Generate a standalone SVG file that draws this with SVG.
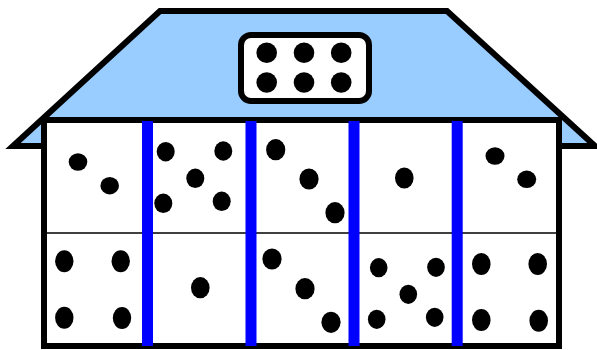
<svg xmlns="http://www.w3.org/2000/svg" width="597" height="350" viewBox="0 0 597 350">
<style>
.ol{stroke:#000;stroke-width:6;stroke-linejoin:miter;stroke-miterlimit:10}
.d{fill:#000}
.bar{fill:#0000FF}
</style>
<rect width="597" height="350" fill="#fff"/>
<g id="roof">
<polygon class="ol" fill="#99CCFF" points="13,146 160,11 447,11 595,146"/>
</g>
<g id="window">
<rect class="ol" fill="#fff" x="241" y="35" width="128" height="66" rx="10" ry="10"/>
<circle class="d" cx="266.7" cy="52.8" r="10.3"/>
<circle class="d" cx="304" cy="52.8" r="10.3"/>
<circle class="d" cx="341.2" cy="52.8" r="10.3"/>
<circle class="d" cx="266.7" cy="82.5" r="10.3"/>
<circle class="d" cx="304" cy="82.5" r="10.3"/>
<circle class="d" cx="341.2" cy="82.5" r="10.3"/>
</g>
<g id="wall">
<rect class="ol" fill="#fff" x="44" y="120" width="515" height="226"/>
<line x1="44" y1="233" x2="559" y2="233" stroke="#000" stroke-width="1.5"/>
</g>
<g id="dots">
<ellipse class="d" cx="78" cy="162" rx="9.3" ry="8.7"/>
<ellipse class="d" cx="109.7" cy="185.7" rx="9.3" ry="8.7"/>
<ellipse class="d" cx="165.7" cy="151.7" rx="9" ry="9.7"/>
<ellipse class="d" cx="223.3" cy="151" rx="9" ry="9.7"/>
<ellipse class="d" cx="195.3" cy="178.3" rx="9" ry="9.7"/>
<ellipse class="d" cx="163.3" cy="203.3" rx="9" ry="9.7"/>
<ellipse class="d" cx="221.7" cy="201.3" rx="9" ry="9.7"/>
<ellipse class="d" cx="275.7" cy="149.7" rx="9.6" ry="10.6"/>
<ellipse class="d" cx="309" cy="179" rx="9.6" ry="10.6"/>
<ellipse class="d" cx="335" cy="212.7" rx="9.6" ry="10.6"/>
<ellipse class="d" cx="404.3" cy="178" rx="9.3" ry="10.6"/>
<ellipse class="d" cx="495" cy="156" rx="9.5" ry="8.7"/>
<ellipse class="d" cx="526.7" cy="179.3" rx="9.5" ry="8.7"/>
<ellipse class="d" cx="64.3" cy="261.3" rx="9.2" ry="11"/>
<ellipse class="d" cx="120.7" cy="261.3" rx="9.2" ry="11"/>
<ellipse class="d" cx="64.3" cy="317.7" rx="9.2" ry="11"/>
<ellipse class="d" cx="122" cy="318" rx="9.2" ry="11"/>
<ellipse class="d" cx="200.3" cy="287.7" rx="9.3" ry="10.6"/>
<ellipse class="d" cx="272" cy="259" rx="9.6" ry="10.6"/>
<ellipse class="d" cx="305" cy="288.7" rx="9.6" ry="10.6"/>
<ellipse class="d" cx="331" cy="322.3" rx="9.6" ry="10.6"/>
<ellipse class="d" cx="378.7" cy="267.7" rx="8.8" ry="9.6"/>
<ellipse class="d" cx="436" cy="267.3" rx="8.8" ry="9.6"/>
<ellipse class="d" cx="408.3" cy="294.3" rx="8.8" ry="9.6"/>
<ellipse class="d" cx="376.7" cy="319.3" rx="8.8" ry="9.6"/>
<ellipse class="d" cx="434.7" cy="317.3" rx="8.8" ry="9.6"/>
<ellipse class="d" cx="481.3" cy="264" rx="9.3" ry="11"/>
<ellipse class="d" cx="537.7" cy="264" rx="9.3" ry="11"/>
<ellipse class="d" cx="481.3" cy="320" rx="9.3" ry="11"/>
<ellipse class="d" cx="538.7" cy="320.7" rx="9.3" ry="11"/>
</g>
<g id="bars">
<rect class="bar" x="142" y="121" width="11" height="225"/>
<rect class="bar" x="245.5" y="121" width="11" height="225"/>
<rect class="bar" x="348.5" y="121" width="11" height="225"/>
<rect class="bar" x="451.7" y="121" width="11" height="225"/>
</g>
</svg>
